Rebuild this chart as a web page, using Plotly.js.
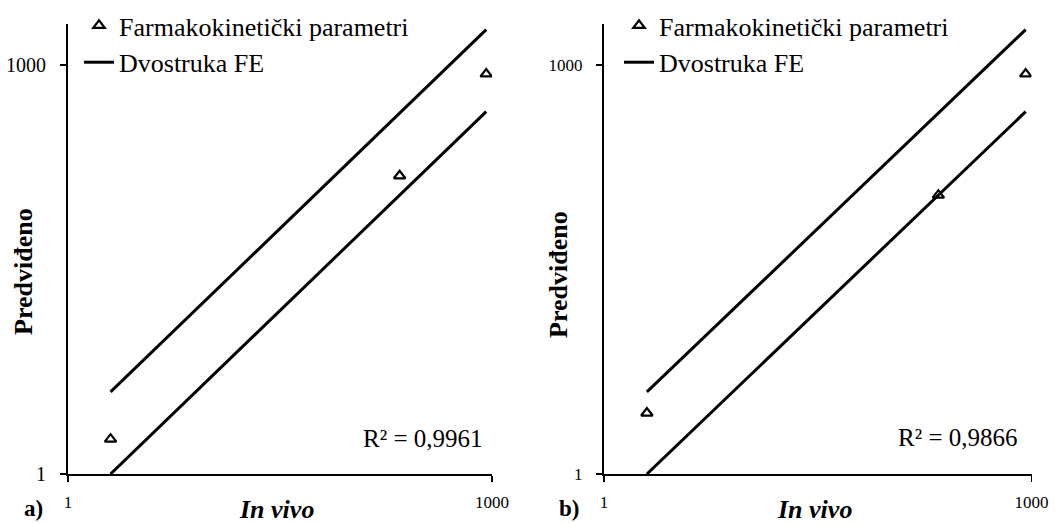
<!DOCTYPE html>
<html><head><meta charset="utf-8">
<script src="https://cdn.plot.ly/plotly-3.0.1.min.js"></script>
<style>html,body{margin:0;padding:0;background:#fff}#chart{width:1057px;height:523px}</style>
</head><body><div id="chart"></div>
<script>
// Data
const inVivo = [2, 222, 910];
const predictedA = [1.8, 154, 860];
const predictedB = [2.8, 111, 860];
const foldX = [2, 910];
const upperFold = [4, 1820];
const lowerFold = [1, 455];
const axisTickVals = [1, 1000];
const axisTickText = ['1', '1000'];
const panelLabels = ['a)', 'b)'];
const r2Labels = ['R² = 0,9961', 'R² = 0,9866'];
const pointsName = 'Farmakokinetički parametri';
const foldName = 'Dvostruka FE';
const xTitle = '<b><i>In vivo</i></b>';
const yTitle = '<b>Predviđeno</b>';

const FONT = 'Liberation Serif';
const W = 1057, H = 523;
const px = v => v / W;
const py = v => 1 - v / H;

function panelTraces(pred, xa, ya, lg) {
  return [
    {x: inVivo, y: pred, type: 'scatter', mode: 'markers', name: pointsName,
     xaxis: xa, yaxis: ya, legend: lg,
     marker: {symbol: 'triangle-up-open', size: 10, color: '#000', line: {width: 2.2, color: '#000'}}},
    {x: foldX, y: upperFold, type: 'scatter', mode: 'lines', name: foldName,
     xaxis: xa, yaxis: ya, legend: lg, legendgroup: 'fold' + lg,
     line: {color: '#000', width: 3}},
    {x: foldX, y: lowerFold, type: 'scatter', mode: 'lines', name: foldName, showlegend: false,
     xaxis: xa, yaxis: ya, legend: lg, legendgroup: 'fold' + lg,
     line: {color: '#000', width: 3}}
  ];
}

const data = [].concat(
  panelTraces(predictedA, 'x', 'y', 'legend'),
  panelTraces(predictedB, 'x2', 'y2', 'legend2')
);

function xAxis(d, anchor) {
  return {domain: d, anchor: anchor, type: 'log', range: [0, 3],
    showline: true, linecolor: '#000', linewidth: 2, showgrid: false, zeroline: false,
    ticks: 'outside', ticklen: 6, tickwidth: 1.5, tickcolor: '#000',
    tickvals: axisTickVals, ticktext: axisTickText, ticklabelstandoff: 6,
    tickfont: {family: FONT, size: 17, color: '#000'}};
}
function yAxis(anchor, fs) {
  return {domain: [py(474), py(24)], anchor: anchor, type: 'log', range: [0, Math.log10(2000)],
    showline: true, linecolor: '#000', linewidth: 2, showgrid: false, zeroline: false,
    ticks: 'outside', ticklen: 6, tickwidth: 1.5, tickcolor: '#000',
    tickvals: axisTickVals, ticktext: axisTickText, ticklabelstandoff: 10,
    tickfont: {family: FONT, size: fs, color: '#000'}};
}

function ann(text, x, y, opts) {
  return Object.assign({text: text, xref: 'paper', yref: 'paper', x: px(x), y: py(y),
    showarrow: false, xanchor: 'center', yanchor: 'middle',
    font: {family: FONT, size: 25, color: '#000'}}, opts || {});
}

const legendFont = {family: FONT, size: 26, color: '#000'};

const layout = {
  width: W, height: H,
  margin: {l: 0, r: 0, t: 0, b: 0},
  paper_bgcolor: '#fff', plot_bgcolor: '#fff',
  font: {family: FONT, color: '#000'},
  xaxis: xAxis([px(68), px(492)], 'y'),
  yaxis: yAxis('x', 20),
  xaxis2: xAxis([px(604), px(1031.5)], 'y2'),
  yaxis2: yAxis('x2', 17),
  legend: {x: px(79), y: py(2), xanchor: 'left', yanchor: 'top', bgcolor: 'rgba(0,0,0,0)',
    borderwidth: 0, traceorder: 'normal', font: legendFont},
  legend2: {x: px(619), y: py(2), xanchor: 'left', yanchor: 'top', bgcolor: 'rgba(0,0,0,0)',
    borderwidth: 0, traceorder: 'normal', font: legendFont},
  annotations: [
    ann(r2Labels[0], 485, 438, {xanchor: 'right'}),
    ann(r2Labels[1], 1020, 437, {xanchor: 'right'}),
    ann(yTitle, 23, 272, {textangle: -90, font: {family: FONT, size: 26, color: '#000'}}),
    ann(yTitle, 558, 275, {textangle: -90, font: {family: FONT, size: 26, color: '#000'}}),
    ann(xTitle, 276, 509, {font: {family: FONT, size: 26, color: '#000'}}),
    ann(xTitle, 814, 509, {font: {family: FONT, size: 26, color: '#000'}}),
    ann('<b>' + panelLabels[0] + '</b>', 33, 508, {font: {family: FONT, size: 23, color: '#000'}}),
    ann('<b>' + panelLabels[1] + '</b>', 569, 508, {font: {family: FONT, size: 23, color: '#000'}})
  ]
};

Plotly.newPlot('chart', data, layout, {displayModeBar: false, staticPlot: true});
</script></body></html>
